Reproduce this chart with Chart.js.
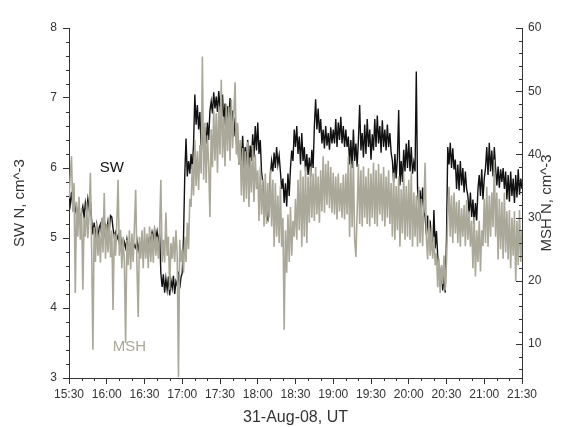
<!DOCTYPE html>
<html>
<head>
<meta charset="utf-8">
<script src="https://cdn.jsdelivr.net/npm/chart.js@4.4.0/dist/chart.umd.min.js"></script>
<style>
  html, body { margin: 0; padding: 0; background: #fff; }
</style>
</head>
<body>
<canvas id="chart" width="566" height="427"></canvas>
<script>
// time axis: one sample per minute starting 15:30 UT, 31-Aug-08
const tickLabels = ['15:30', '16:00', '16:30', '17:00', '17:30', '18:00', '18:30',
                    '19:00', '19:30', '20:00', '20:30', '21:00', '21:30'];

// solar wind density, cm^-3 (left axis)
const sw = [
  5.62, 5.48, 5.66, 5.45, 5.58, 5.38, 5.44, 5.28, 5.40, 5.25,
  5.36, 5.45, 5.30, 5.50, 5.38, 5.56, 5.42, 5.52, 5.25, 5.05,
  5.22, 5.02, 5.18, 5.00, 5.15, 5.20, 5.04, 5.22, 5.06, 5.18,
  5.10, 5.24, 5.12, 5.32, 5.30, 5.14, 5.02, 5.08, 4.98, 5.04,
  4.92, 4.85, 4.96, 4.84, 4.94, 4.86, 4.98, 4.82, 4.92, 4.88,
  4.95, 4.84, 4.90, 4.86, 4.97, 4.83, 4.93, 4.87, 4.99, 4.85,
  4.94, 4.88, 4.96, 4.90, 5.02, 4.96, 5.08, 4.98, 5.12, 5.00,
  5.10, 4.96, 5.06, 4.50, 4.30, 4.48, 4.22, 4.42, 4.26, 4.45,
  4.18, 4.40, 4.28, 4.46, 4.20, 4.38, 4.32, 4.52, 4.28, 4.44,
  4.50, 5.00, 5.90, 6.42, 5.88, 6.10, 5.92, 6.20, 5.98, 6.35,
  7.05, 6.62, 6.90, 6.55, 6.80, 6.30, 6.62, 6.24, 6.58, 6.35,
  6.65, 6.40, 6.82, 6.95, 6.78, 7.08, 6.85, 7.02, 6.80, 7.10,
  6.86, 6.70, 7.05, 6.62, 6.92, 6.50, 6.88, 6.72, 7.00, 6.58,
  6.82, 6.45, 6.72, 6.40, 6.50, 6.05, 6.35, 6.10, 6.46, 6.00,
  6.30, 6.05, 6.40, 5.98, 6.32, 6.10, 6.48, 6.15, 6.60, 6.25,
  6.65, 6.20, 6.40, 5.95, 5.80, 5.40, 5.60, 5.30, 5.26, 5.55,
  5.90, 6.10, 5.95, 6.22, 6.00, 6.30, 6.05, 6.18, 5.95, 5.70,
  5.85, 5.50, 5.78, 5.45, 5.92, 5.60, 6.00, 6.25, 6.10, 6.55,
  6.30, 6.60, 6.20, 6.45, 6.05, 6.50, 6.10, 6.30, 5.95, 6.20,
  5.90, 6.15, 5.88, 6.26, 6.00, 6.60, 6.98, 6.55, 6.85, 6.50,
  6.70, 6.35, 6.55, 6.28, 6.60, 6.32, 6.50, 6.26, 6.58, 6.35,
  6.55, 6.35, 6.70, 6.30, 6.65, 6.40, 6.73, 6.35, 6.60, 6.30,
  6.55, 6.30, 6.45, 6.05, 6.40, 6.00, 6.55, 6.10, 6.35, 6.02,
  6.40, 6.90, 6.25, 6.50, 6.15, 6.62, 6.20, 6.70, 6.30, 6.55,
  6.12, 6.48, 6.25, 6.70, 6.30, 6.75, 6.35, 6.60, 6.22, 6.68,
  6.30, 6.55, 6.25, 6.62, 6.30, 6.50, 6.22, 6.10, 5.80, 6.20,
  5.85, 6.15, 6.83, 5.75, 6.10, 5.80, 6.26, 5.95, 6.35, 6.00,
  6.40, 5.95, 6.30, 5.92, 6.08, 5.95, 7.38, 5.70, 5.45, 5.68,
  5.40, 5.72, 5.38, 5.30, 5.05, 5.32, 5.00, 5.25, 4.98, 4.80,
  5.40, 4.85, 5.10, 4.75, 4.55, 4.30, 4.58, 4.25, 4.48, 4.22,
  5.00, 6.30, 6.05, 6.36, 6.00, 6.28, 5.98, 6.12, 5.70, 6.05,
  5.68, 6.10, 5.75, 6.00, 5.65, 5.95, 5.70, 5.60, 5.35, 5.65,
  5.30, 5.55, 5.20, 5.50, 5.25, 5.70, 5.90, 5.60, 5.98, 5.55,
  5.85, 6.00, 6.30, 5.90, 6.36, 5.95, 6.25, 5.88, 6.30, 6.00,
  5.75, 6.02, 5.72, 5.98, 5.80, 6.00, 5.70, 5.95, 5.55, 5.90,
  5.52, 5.95, 5.60, 5.85, 5.50, 5.90, 5.58, 5.98, 5.62, 5.85,
  5.70
];

// magnetosheath density, cm^-3 (right axis)
const msh = [
  33.0, 36.5, 39.7, 31.0, 35.5, 18.1, 32.5, 27.0, 33.3, 26.5,
  31.5, 18.6, 30.0, 27.0, 32.5, 26.8, 30.5, 37.1, 25.0, 9.1,
  28.5, 23.0, 29.2, 24.0, 27.5, 22.9, 30.0, 24.5, 33.9, 23.5,
  29.0, 24.5, 30.0, 23.7, 28.0, 15.4, 27.5, 24.0, 29.0, 36.0,
  24.0, 28.1, 22.0, 27.0, 23.0, 10.2, 26.5, 22.5, 28.0, 21.8,
  27.5, 23.0, 28.6, 34.4, 22.5, 14.3, 27.0, 23.5, 28.0, 22.0,
  28.5, 23.5, 27.5, 22.0, 28.6, 23.0, 27.5, 22.9, 28.6, 24.0,
  27.0, 23.5, 28.0, 36.0, 23.0, 26.5, 22.9, 30.8, 24.0, 27.0,
  18.6, 26.0, 23.5, 27.0, 23.0, 28.0, 24.0, 4.8, 26.5, 23.0,
  25.0, 21.3, 27.0, 23.0, 29.2, 25.0, 33.0, 31.7, 38.5, 33.5,
  42.3, 35.0, 40.5, 34.4, 41.5, 37.0, 55.5, 36.0, 45.0, 35.5,
  43.0, 38.5, 30.1, 44.0, 38.0, 47.0, 39.0, 46.5, 37.1, 47.6,
  40.0, 51.8, 39.5, 46.0, 38.1, 48.0, 40.5, 47.5, 39.0, 48.7,
  41.0, 46.5, 51.4, 40.0, 45.0, 38.5, 42.3, 33.5, 41.0, 32.5,
  40.5, 33.0, 42.0, 31.7, 39.5, 34.0, 41.5, 32.5, 40.0, 34.5,
  37.5, 29.5, 38.1, 30.5, 36.0, 28.6, 37.0, 29.0, 35.5, 30.0,
  37.5, 28.6, 36.0, 25.4, 35.5, 27.0, 33.5, 26.0, 35.0, 25.4,
  30.0, 12.3, 28.0, 21.3, 30.5, 23.0, 31.7, 24.0, 29.5, 27.0,
  33.0, 26.5, 36.0, 28.0, 37.5, 25.4, 36.5, 27.0, 38.1, 26.0,
  36.5, 29.2, 38.1, 30.0, 37.0, 29.5, 38.0, 30.5, 36.5, 29.2,
  37.5, 31.0, 39.7, 30.8, 38.5, 32.0, 39.0, 31.5, 38.0, 30.8,
  37.1, 30.5, 36.5, 29.7, 37.0, 31.0, 35.5, 30.0, 36.8, 29.7,
  37.0, 30.5, 39.7, 27.0, 38.5, 28.5, 39.0, 26.5, 23.8, 31.0,
  38.5, 29.0, 37.5, 28.6, 38.1, 30.0, 36.5, 29.0, 37.8, 28.6,
  37.0, 30.0, 38.7, 29.0, 37.5, 28.6, 38.5, 30.5, 37.0, 29.5,
  38.0, 28.6, 36.5, 30.0, 37.5, 29.0, 35.5, 27.0, 37.1, 26.5,
  35.0, 28.0, 36.5, 25.4, 34.5, 27.5, 37.0, 26.5, 35.0, 27.0,
  36.0, 26.5, 37.1, 25.4, 34.0, 27.0, 33.5, 25.4, 34.9, 26.0,
  33.0, 25.5, 32.0, 38.7, 27.0, 23.4, 29.7, 24.0, 28.5, 23.5,
  27.0, 22.5, 24.4, 19.0, 23.5, 18.1, 22.5, 19.5, 24.0, 18.5,
  23.0, 30.0, 34.9, 27.0, 33.5, 26.0, 34.0, 27.5, 32.5, 26.0,
  32.8, 25.4, 31.5, 27.0, 32.0, 25.5, 32.8, 26.5, 31.0, 25.4,
  29.5, 22.0, 30.1, 20.7, 28.0, 23.0, 29.5, 21.5, 28.0, 25.5,
  33.0, 26.0, 34.9, 25.4, 33.5, 27.0, 34.0, 28.5, 39.2, 27.0,
  34.0, 23.4, 33.0, 25.0, 32.5, 23.5, 34.0, 24.5, 31.0, 23.4,
  31.2, 22.0, 30.0, 24.0, 31.0, 20.0, 29.5, 22.5, 31.2, 23.0,
  28.0
];

const AXIS = '#333';
const SW_COLOR = '#111';
const MSH_COLOR = 'rgb(170,168,152)';
const FONT = 'Arial, "Liberation Sans", sans-serif';

// where the two series names are written (minutes from 15:30, SW units)
const swLabelAt = [34, 6.0];
const mshLabelAt = [48, 3.44];

Chart.defaults.font.family = FONT;
Chart.defaults.font.size = 12;
Chart.defaults.color = AXIS;

const toXY = arr => arr.map((v, i) => ({ x: i, y: v }));

const extras = {
  id: 'extras',
  afterDraw(chart) {
    const { ctx, chartArea: a, scales: { x, y, y2 } } = chart;
    ctx.save();
    ctx.strokeStyle = AXIS;
    ctx.lineWidth = 1;
    ctx.beginPath();
    // minor time ticks every 10 min
    for (let m = 0; m <= 360; m += 10) {
      if (m % 30 === 0) continue;
      const px = Math.round(x.getPixelForValue(m)) + 0.5;
      ctx.moveTo(px, a.bottom);
      ctx.lineTo(px, a.bottom + 3);
    }
    // minor left ticks every 0.2
    for (let i = 15; i <= 40; i++) {
      if (i % 5 === 0) continue;
      const py = Math.round(y.getPixelForValue(i / 5)) + 0.5;
      ctx.moveTo(a.left, py);
      ctx.lineTo(a.left - 3, py);
    }
    // right ticks point inward
    for (let v = 6; v <= 60; v += 2) {
      const py = Math.round(y2.getPixelForValue(v)) + 0.5;
      const len = v % 10 === 0 ? 6 : 3;
      ctx.moveTo(a.right, py);
      ctx.lineTo(a.right - len, py);
    }
    ctx.stroke();

    ctx.fillStyle = AXIS;
    ctx.textAlign = 'center';
    ctx.textBaseline = 'middle';
    ctx.font = '15px ' + FONT;
    const midY = (a.top + a.bottom) / 2;
    ctx.save();
    ctx.translate(20, midY);
    ctx.rotate(-Math.PI / 2);
    ctx.fillText('SW N, cm^-3', 0, 0);
    ctx.restore();
    ctx.save();
    ctx.translate(547, midY);
    ctx.rotate(-Math.PI / 2);
    ctx.fillText('MSH N, cm^-3', 0, 0);
    ctx.restore();
    ctx.font = '16px ' + FONT;
    ctx.fillText('31-Aug-08, UT', (a.left + a.right) / 2, 418);

    ctx.font = '15px ' + FONT;
    ctx.fillStyle = SW_COLOR;
    ctx.fillText('SW', x.getPixelForValue(swLabelAt[0]), y.getPixelForValue(swLabelAt[1]));
    ctx.fillStyle = MSH_COLOR;
    ctx.fillText('MSH', x.getPixelForValue(mshLabelAt[0]), y.getPixelForValue(mshLabelAt[1]));
    ctx.restore();
  }
};

new Chart(document.getElementById('chart'), {
  type: 'line',
  data: {
    datasets: [
      { label: 'MSH', data: toXY(msh), yAxisID: 'y2', borderColor: MSH_COLOR,
        borderWidth: 1.6, pointRadius: 0, tension: 0, order: 1 },
      { label: 'SW', data: toXY(sw), yAxisID: 'y', borderColor: SW_COLOR,
        borderWidth: 1.4, pointRadius: 0, tension: 0, order: 2 }
    ]
  },
  options: {
    responsive: false,
    animation: false,
    layout: { padding: { top: 28, left: 0, right: 0, bottom: 0 } },
    plugins: { legend: { display: false }, tooltip: { enabled: false } },
    scales: {
      x: {
        type: 'linear', min: 0, max: 360,
        ticks: {
          stepSize: 30, autoSkip: false, maxRotation: 0, padding: 3,
          callback: v => tickLabels[Math.round(v / 30)]
        },
        grid: { drawOnChartArea: false, drawTicks: true, tickLength: 6, color: AXIS },
        border: { display: true, color: AXIS },
        afterFit: s => { s.height = 49; }
      },
      y: {
        position: 'left', min: 3, max: 8,
        ticks: { stepSize: 1, padding: 6 },
        grid: { drawOnChartArea: false, drawTicks: true, tickLength: 6, color: AXIS },
        border: { display: true, color: AXIS },
        afterFit: s => { s.width = 69; }
      },
      y2: {
        position: 'right', min: 4.65, max: 60,
        ticks: { stepSize: 10, padding: 6, includeBounds: false },
        grid: { drawOnChartArea: false, drawTicks: false },
        border: { display: true, color: AXIS },
        afterFit: s => { s.width = 44; }
      }
    }
  },
  plugins: [extras]
});
</script>
</body>
</html>
